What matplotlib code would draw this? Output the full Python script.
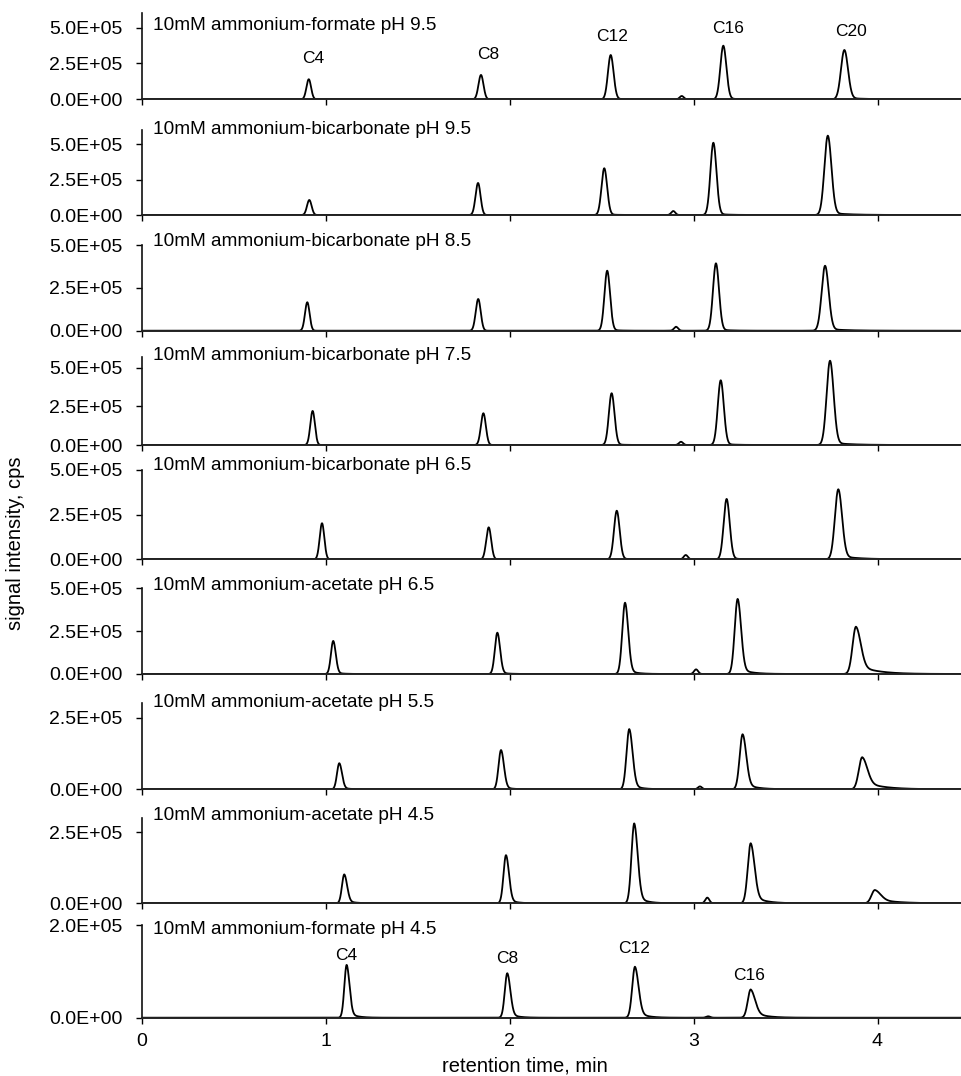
import numpy as np
import matplotlib
matplotlib.use("Agg")
import matplotlib.pyplot as plt
from matplotlib.ticker import FuncFormatter

plt.rcParams['font.family'] = ['Liberation Sans', 'DejaVu Sans']

# ---------------- data ----------------
titles = [
    "10mM ammonium-formate pH 9.5",
    "10mM ammonium-bicarbonate pH 9.5",
    "10mM ammonium-bicarbonate pH 8.5",
    "10mM ammonium-bicarbonate pH 7.5",
    "10mM ammonium-bicarbonate pH 6.5",
    "10mM ammonium-acetate pH 6.5",
    "10mM ammonium-acetate pH 5.5",
    "10mM ammonium-acetate pH 4.5",
    "10mM ammonium-formate pH 4.5",
]
# retention times (min) of C4, C8, C12, impurity, C16, C20
rt_formate_95 = [0.909, 1.845, 2.550, 2.936, 3.162, 3.820]
rt_bicarb_95 = [0.912, 1.829, 2.515, 2.890, 3.108, 3.730]
rt_bicarb_85 = [0.901, 1.830, 2.531, 2.905, 3.122, 3.715]
rt_bicarb_75 = [0.930, 1.858, 2.555, 2.932, 3.148, 3.742]
rt_bicarb_65 = [0.981, 1.887, 2.583, 2.958, 3.180, 3.787]
rt_acetate_65 = [1.042, 1.934, 2.628, 3.014, 3.240, 3.883]
rt_acetate_55 = [1.075, 1.954, 2.651, 3.035, 3.267, 3.917]
rt_acetate_45 = [1.102, 1.981, 2.678, 3.075, 3.311, 3.986]
rt_formate_45 = [1.115, 1.988, 2.682, 3.080, 3.311]
# peak heights (cps)
h_formate_95 = [1.40e5, 1.70e5, 3.09e5, 0.23e5, 3.74e5, 3.44e5]
h_bicarb_95 = [1.06e5, 2.26e5, 3.30e5, 0.28e5, 5.10e5, 5.60e5]
h_bicarb_85 = [1.66e5, 1.85e5, 3.50e5, 0.23e5, 3.93e5, 3.79e5]
h_bicarb_75 = [2.21e5, 2.06e5, 3.36e5, 0.21e5, 4.20e5, 5.47e5]
h_bicarb_65 = [2.02e5, 1.79e5, 2.72e5, 0.24e5, 3.38e5, 3.92e5]
h_acetate_65 = [1.93e5, 2.41e5, 4.16e5, 0.27e5, 4.38e5, 2.76e5]
h_acetate_55 = [0.91e5, 1.37e5, 2.10e5, 0.10e5, 1.92e5, 1.12e5]
h_acetate_45 = [1.02e5, 1.70e5, 2.82e5, 0.20e5, 2.12e5, 0.47e5]
h_formate_45 = [1.14e5, 0.96e5, 1.10e5, 0.03e5, 0.61e5]
# tailing fraction of each peak
tail_formate_95 = [0.0, 0.0, 0.02, 0.0, 0.02, 0.03]
tail_bicarb_95 = [0.0, 0.0, 0.02, 0.0, 0.02, 0.03]
tail_bicarb_85 = [0.0, 0.0, 0.02, 0.0, 0.02, 0.03]
tail_bicarb_75 = [0.0, 0.0, 0.02, 0.0, 0.02, 0.03]
tail_bicarb_65 = [0.0, 0.0, 0.02, 0.0, 0.02, 0.05]
tail_acetate_65 = [0.05, 0.05, 0.07, 0.0, 0.08, 0.20]
tail_acetate_55 = [0.08, 0.08, 0.10, 0.0, 0.12, 0.25]
tail_acetate_45 = [0.12, 0.10, 0.12, 0.0, 0.15, 0.35]
tail_formate_45 = [0.12, 0.12, 0.15, 0.0, 0.25]

rts = [rt_formate_95, rt_bicarb_95, rt_bicarb_85, rt_bicarb_75, rt_bicarb_65,
       rt_acetate_65, rt_acetate_55, rt_acetate_45, rt_formate_45]
heights = [h_formate_95, h_bicarb_95, h_bicarb_85, h_bicarb_75, h_bicarb_65,
           h_acetate_65, h_acetate_55, h_acetate_45, h_formate_45]
tails = [tail_formate_95, tail_bicarb_95, tail_bicarb_85, tail_bicarb_75, tail_bicarb_65,
         tail_acetate_65, tail_acetate_55, tail_acetate_45, tail_formate_45]

ymaxes = [6.0e5, 6.0e5, 5.0e5, 5.73e5, 5.0e5, 5.0e5, 3.0e5, 3.0e5, 2.0e5]
yticks = [[0, 2.5e5, 5e5]] * 6 + [[0, 2.5e5], [0, 2.5e5], [0, 2e5]]
xticks = [0, 1, 2, 3, 4]

top_labels = ["C4", "C8", "C12", "C16", "C20"]
top_label_xy = [(0.932, 2.88e5), (1.883, 3.16e5), (2.557, 4.35e5), (3.186, 4.91e5), (3.854, 4.70e5)]
bot_labels = ["C4", "C8", "C12", "C16"]
bot_label_xy = [(1.115, 1.34e5), (1.985, 1.28e5), (2.678, 1.50e5), (3.303, 0.92e5)]

# ---------------- layout (pixels) ----------------
W, H = 961, 1076
left_px = 141.5
panel_top = [13.3, 130, 245, 356.7, 470, 588.3, 703.3, 818.3, 925]
panel_base = [99.3, 215, 330.7, 445, 559.3, 674, 789.3, 903.3, 1017.7]
title_dy_px = [-12.4, 0, 3.3, 1.7, 5, 2.3, 0.6, 3.3, -5]
xmax = (W - left_px) / 184.0


def peak(x, mu, h, sig, a, tau):
    d = x - mu
    left = np.exp(-0.5 * (d / sig) ** 2)
    sr = sig * (1 + 2.0 * a)
    right = (1 - a) * np.exp(-0.5 * (d / sr) ** 2) + a * np.exp(-np.clip(d, 0, None) / tau)
    return h * np.where(d < 0, left, right)


sigmas_main = [0.0125, 0.0135, 0.015, 0.016, 0.0185]
taus_main = [0.04, 0.04, 0.045, 0.06, 0.10]

fig = plt.figure(figsize=(W / 100, H / 100), dpi=100)
x = np.linspace(0, xmax, 6000)

for i in range(9):
    b = 1 - panel_base[i] / H
    hgt = (panel_base[i] - panel_top[i]) / H
    ax = fig.add_axes([left_px / W, b, 1 - left_px / W, hgt])
    y = np.zeros_like(x)
    rt = rts[i]
    hh = heights[i]
    tl = tails[i]
    k = 0
    for j in range(len(rt)):
        if j == 3:  # impurity peak
            y += peak(x, rt[j], hh[j], 0.011, tl[j], 0.03)
        else:
            y += peak(x, rt[j], hh[j], sigmas_main[k], tl[j], taus_main[k])
            k += 1
    ax.plot(x, y, color='black', lw=1.3, solid_joinstyle='round')
    ax.set_xlim(0, xmax)
    ax.set_ylim(0, ymaxes[i])
    ax.set_yticks(yticks[i])
    ax.yaxis.set_major_formatter(FuncFormatter(lambda v, p: f"{v:.1E}"))
    ax.set_xticks(xticks)
    for s in ['top', 'right']:
        ax.spines[s].set_visible(False)
    ax.spines['left'].set_linewidth(1.2)
    ax.spines['bottom'].set_linewidth(1.4)
    ax.spines['left'].set_color('#111111')
    ax.spines['bottom'].set_color('#222222')
    ax.tick_params(axis='y', direction='out', length=4.3, width=1.0, pad=9.5, labelsize=14)
    ax.tick_params(axis='x', direction='out', length=4.3, width=1.0, pad=7.0, labelsize=14)
    if i < 8:
        ax.tick_params(axis='x', labelbottom=False)
    ax.patch.set_alpha(0)
    ax.annotate(titles[i], xy=(0, 1), xycoords='axes fraction',
                xytext=(8.5, title_dy_px[i] * 0.72), textcoords='offset points',
                ha='left', va='center', fontsize=13.7)
    if i == 0:
        for lab, (lx, ly) in zip(top_labels, top_label_xy):
            ax.text(lx, ly, lab, ha='center', va='center', fontsize=12.5)
    if i == 8:
        for lab, (lx, ly) in zip(bot_labels, bot_label_xy):
            ax.text(lx, ly, lab, ha='center', va='center', fontsize=12.5)

fig.text(525 / W, 1 - 1066 / H, "retention time, min", ha='center', va='center', fontsize=14.5)
fig.text(16 / W, 1 - 543 / H, "signal intensity, cps", ha='center', va='center',
         rotation=90, fontsize=14.5)

fig.savefig("out.png", dpi=100)
